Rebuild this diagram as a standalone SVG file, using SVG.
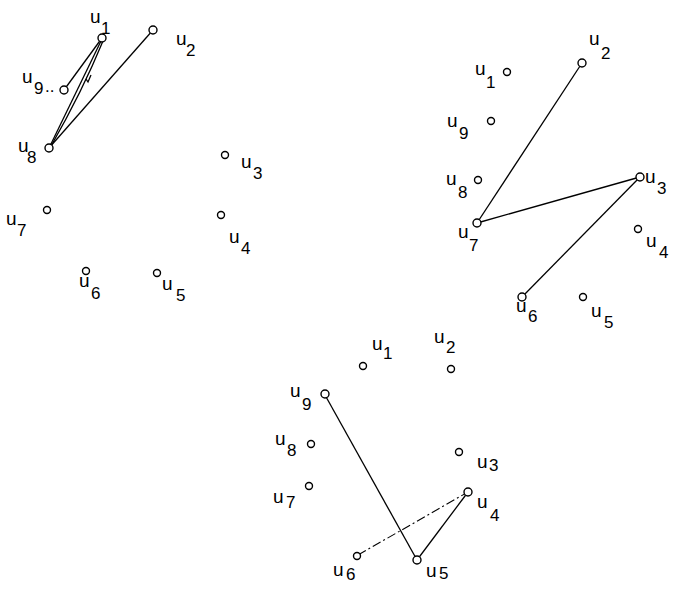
<svg xmlns="http://www.w3.org/2000/svg" width="682" height="589" viewBox="0 0 682 589">
<style>
.n{fill:#fff;stroke:#000;stroke-width:1.4}
.e{fill:none;stroke:#000;stroke-width:1.3}
.dd{fill:none;stroke:#000;stroke-width:1.1;stroke-dasharray:9 3 2 3}
text{font-family:"Liberation Sans","DejaVu Sans",sans-serif;font-size:19px;fill:#000}
.s{font-size:17px}
</style>
<rect width="682" height="589" fill="#fff"/>
<g id="connectors">
<line class="e" x1="102" y1="38" x2="64" y2="90"/>
<line class="e" x1="101" y1="41" x2="50" y2="146"/>
<path class="e" d="M103,41 Q82,92 51,146"/>
<path class="e" d="M86,79 L88,82 L91,75" stroke-width="0.8"/>
<line class="e" x1="153" y1="30" x2="49" y2="148"/>
<line class="e" x1="582" y1="63" x2="477" y2="223"/>
<line class="e" x1="477" y1="223" x2="640" y2="177"/>
<line class="e" x1="640" y1="177" x2="522" y2="297"/>
<line class="e" x1="325" y1="395" x2="417" y2="560"/>
<line class="e" x1="468" y1="492" x2="417" y2="560"/>
<line class="dd" x1="358" y1="555" x2="468" y2="492"/>
</g>
<g id="g1-u1"><circle class="n" cx="102" cy="38" r="4"/><text x="90" y="23">u</text><text class="s" x="101" y="34">1</text></g>
<g id="g1-u2"><circle class="n" cx="153" cy="30" r="4"/><text x="176" y="45">u</text><text class="s" x="186" y="56">2</text></g>
<g id="g1-u9"><circle class="n" cx="64" cy="90" r="4"/><text x="22" y="83">u</text><text class="s" x="34" y="94">9</text><text class="s" x="45" y="92">..</text></g>
<g id="g1-u8"><circle class="n" cx="49" cy="148" r="4"/><text x="18" y="152">u</text><text class="s" x="27" y="163">8</text></g>
<g id="g1-u3"><circle class="n" cx="225" cy="155" r="3.5"/><text x="241" y="168">u</text><text class="s" x="253" y="179">3</text></g>
<g id="g1-u7"><circle class="n" cx="47" cy="210" r="3.5"/><text x="6" y="225">u</text><text class="s" x="17" y="236">7</text></g>
<g id="g1-u4"><circle class="n" cx="221" cy="215" r="3.5"/><text x="229" y="243">u</text><text class="s" x="241" y="254">4</text></g>
<g id="g1-u6"><circle class="n" cx="86" cy="271" r="3.5"/><text x="79" y="287">u</text><text class="s" x="91" y="299">6</text></g>
<g id="g1-u5"><circle class="n" cx="157" cy="273" r="3.5"/><text x="162" y="290">u</text><text class="s" x="176" y="301">5</text></g>
<g id="g2-u2"><circle class="n" cx="582" cy="63" r="4"/><text x="589" y="45">u</text><text class="s" x="601" y="59">2</text></g>
<g id="g2-u1"><circle class="n" cx="507" cy="72" r="3.5"/><text x="475" y="75">u</text><text class="s" x="486" y="88">1</text></g>
<g id="g2-u9"><circle class="n" cx="491" cy="121" r="3.5"/><text x="447" y="127">u</text><text class="s" x="459" y="139">9</text></g>
<g id="g2-u8"><circle class="n" cx="478" cy="180" r="3.5"/><text x="446" y="185">u</text><text class="s" x="458" y="198">8</text></g>
<g id="g2-u7"><circle class="n" cx="477" cy="223" r="4"/><text x="458" y="238">u</text><text class="s" x="469" y="251">7</text></g>
<g id="g2-u3"><circle class="n" cx="640" cy="177" r="4"/><text x="645" y="183">u</text><text class="s" x="657" y="194">3</text></g>
<g id="g2-u4"><circle class="n" cx="638" cy="229" r="3.5"/><text x="646" y="247">u</text><text class="s" x="659" y="258">4</text></g>
<g id="g2-u6"><circle class="n" cx="522" cy="297" r="4"/><text x="516" y="312">u</text><text class="s" x="528" y="322">6</text></g>
<g id="g2-u5"><circle class="n" cx="583" cy="297" r="3.5"/><text x="591" y="317">u</text><text class="s" x="604" y="328">5</text></g>
<g id="g3-u1"><circle class="n" cx="363" cy="366" r="3.5"/><text x="372" y="350">u</text><text class="s" x="383" y="359">1</text></g>
<g id="g3-u2"><circle class="n" cx="451" cy="369" r="3.5"/><text x="434" y="343">u</text><text class="s" x="446" y="353">2</text></g>
<g id="g3-u9"><circle class="n" cx="325" cy="394" r="4"/><text x="290" y="397">u</text><text class="s" x="302" y="410">9</text></g>
<g id="g3-u8"><circle class="n" cx="311" cy="444" r="3.5"/><text x="275" y="445">u</text><text class="s" x="287" y="456">8</text></g>
<g id="g3-u7"><circle class="n" cx="309" cy="486" r="3.5"/><text x="273" y="503">u</text><text class="s" x="286" y="508">7</text></g>
<g id="g3-u3"><circle class="n" cx="459" cy="452" r="3.5"/><text x="477" y="468">u</text><text class="s" x="489" y="471">3</text></g>
<g id="g3-u4"><circle class="n" cx="468" cy="492" r="4"/><text x="477" y="508">u</text><text class="s" x="490" y="521">4</text></g>
<g id="g3-u6"><circle class="n" cx="357" cy="556" r="3.5"/><text x="333" y="576">u</text><text class="s" x="346" y="580">6</text></g>
<g id="g3-u5"><circle class="n" cx="417" cy="560" r="4"/><text x="426" y="577">u</text><text class="s" x="439" y="579">5</text></g>
</svg>
